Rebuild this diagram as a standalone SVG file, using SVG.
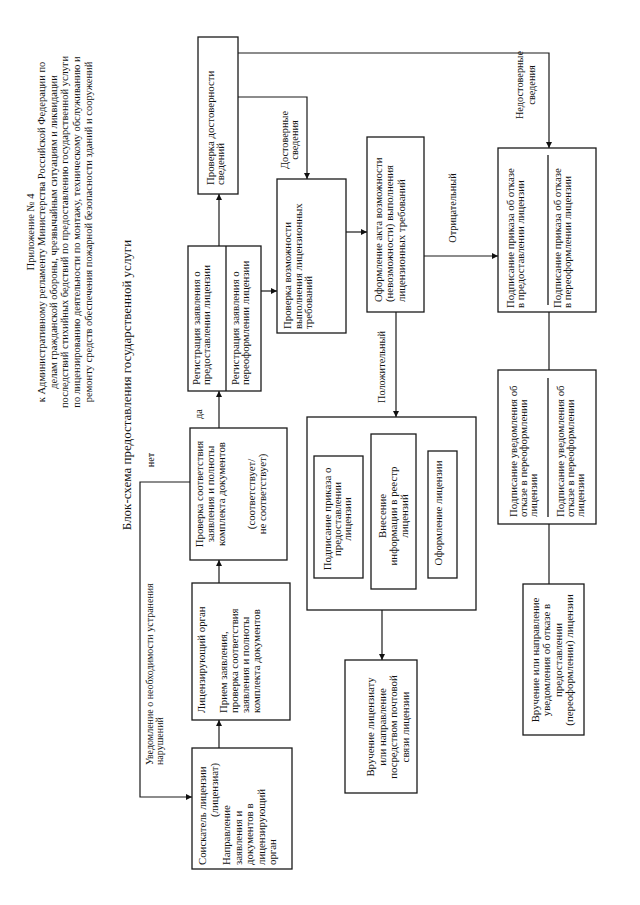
<svg xmlns="http://www.w3.org/2000/svg" width="640" height="905" viewBox="0 0 640 905">
<style>
.t{font-family:"Liberation Serif","Times New Roman",serif;font-size:10.8px;fill:#111}
.s{font-size:10.3px}
.u{font-size:10px}
.h{font-size:10.5px}
.ti{font-size:13px}
.m{text-anchor:middle}
.b{fill:none;stroke:#1a1a1a;stroke-width:1.3}
.l{fill:none;stroke:#1a1a1a;stroke-width:1.2}
</style>
<defs>
<marker id="ah" viewBox="0 0 10 10" refX="10" refY="5" markerWidth="7" markerHeight="6" markerUnits="userSpaceOnUse" orient="auto"><path d="M0,0 L10,5 L0,10 z" fill="#111"/></marker>
</defs>
<rect width="640" height="905" fill="#fff"/>

<g id="header">
<text class="t h m" transform="rotate(-90)" x="-232" y="33.5">Приложение № 4</text>
<text class="t h m" transform="rotate(-90)" x="-232" y="45">к Административному регламенту Министерства Российской Федерации по</text>
<text class="t h m" transform="rotate(-90)" x="-232" y="56.5">делам гражданской обороны, чрезвычайным ситуациям и ликвидации</text>
<text class="t h m" transform="rotate(-90)" x="-232" y="68">последствий стихийных бедствий по предоставлению государственной услуги</text>
<text class="t h m" transform="rotate(-90)" x="-232" y="80">по лицензированию деятельности по монтажу, техническому обслуживанию и</text>
<text class="t h m" transform="rotate(-90)" x="-232" y="91.5">ремонту средств обеспечения пожарной безопасности зданий и сооружений</text>
</g>
<g id="title">
<text class="t ti m" transform="rotate(-90)" x="-385" y="131">Блок-схема предоставления государственной услуги</text>
</g>

<g id="connectors">
<path class="l" d="M219,748 V720" marker-end="url(#ah)"/>
<path class="l" d="M219,583 V560" marker-end="url(#ah)"/>
<path class="l" d="M219,428 V391" marker-end="url(#ah)"/>
<path class="l" d="M219,246 V194" marker-end="url(#ah)"/>
<path class="l" d="M261,291 H277" marker-end="url(#ah)"/>
<path class="l" d="M238,53 H549 V148" marker-end="url(#ah)"/>
<path class="l" d="M238,97 H307 V179" marker-end="url(#ah)"/>
<path class="l" d="M346,232 H367" marker-end="url(#ah)"/>
<path class="l" d="M424,256 H498" marker-end="url(#ah)"/>
<path class="l" d="M396,312 V417" marker-end="url(#ah)"/>
<path class="l" d="M549,312 V370"/>
<path class="l" d="M549,524 V584"/>
<path class="l" d="M382,610 V660" marker-end="url(#ah)"/>
<path class="l" d="M190,482 H140 V797 H192" marker-end="url(#ah)"/>
<text class="t s m" transform="rotate(-90)" x="-85" y="523">Недостоверные</text>
<text class="t s m" transform="rotate(-90)" x="-85" y="535">сведения</text>
<text class="t s m" transform="rotate(-90)" x="-140" y="288">Достоверные</text>
<text class="t s m" transform="rotate(-90)" x="-140" y="298">сведения</text>
<text class="t s m" transform="rotate(-90)" x="-208" y="456">Отрицательный</text>
<text class="t s m" transform="rotate(-90)" x="-367" y="385">Положительный</text>
<text class="t s m" transform="rotate(-90)" x="-414" y="202">да</text>
<text class="t s m" transform="rotate(-90)" x="-460" y="154">нет</text>
<text class="t u" transform="rotate(-90)" x="-765" y="153">Уведомление о необходимости устранения</text>
<text class="t u" transform="rotate(-90)" x="-765" y="163">нарушений</text>
</g>

<g id="n-proverka-dostovernosti">
<rect class="b" x="198" y="37" width="40" height="157"/>
<text class="t" transform="rotate(-90)" x="-185" y="213.5">Проверка достоверности</text>
<text class="t" transform="rotate(-90)" x="-185" y="223.5">сведений</text>
</g>

<g id="n-registraciya">
<rect class="b" x="188" y="246" width="73" height="145"/>
<path class="b" d="M226,246 V391"/>
<text class="t" transform="rotate(-90)" x="-385" y="200">Регистрация заявления о</text>
<text class="t" transform="rotate(-90)" x="-385" y="210">предоставлении лицензии</text>
<text class="t" transform="rotate(-90)" x="-385" y="239">Регистрация заявления о</text>
<text class="t" transform="rotate(-90)" x="-385" y="249">переоформлении лицензии</text>
</g>

<g id="n-proverka-vozmozhnosti">
<rect class="b" x="277" y="179" width="69" height="154"/>
<text class="t" transform="rotate(-90)" x="-329" y="291">Проверка возможности</text>
<text class="t" transform="rotate(-90)" x="-329" y="302">выполнения лицензионных</text>
<text class="t" transform="rotate(-90)" x="-329" y="312">требований</text>
</g>

<g id="n-proverka-sootvetstviya">
<rect class="b" x="190" y="428" width="97" height="132"/>
<text class="t m" transform="rotate(-90)" x="-494" y="203">Проверка соответствия</text>
<text class="t m" transform="rotate(-90)" x="-494" y="214">заявления и полноты</text>
<text class="t m" transform="rotate(-90)" x="-494" y="225">комплекта документов</text>
<text class="t m" transform="rotate(-90)" x="-494" y="255">(соответствует/</text>
<text class="t m" transform="rotate(-90)" x="-494" y="265.5">не соответствует)</text>
</g>

<g id="n-licenziruyushchiy-organ">
<rect class="b" x="192" y="583" width="98" height="137"/>
<text class="t" transform="rotate(-90)" x="-713" y="204.5">Лицензирующий орган</text>
<text class="t" transform="rotate(-90)" x="-713" y="226.5">Прием заявления,</text>
<text class="t" transform="rotate(-90)" x="-713" y="237.5">проверка соответствия</text>
<text class="t" transform="rotate(-90)" x="-713" y="248.5">заявления и полноты</text>
<text class="t" transform="rotate(-90)" x="-713" y="259.5">комплекта документов</text>
</g>

<g id="n-soiskatel">
<rect class="b" x="192" y="748" width="100" height="121"/>
<text class="t" transform="rotate(-90)" x="-865" y="206">Соискатель лицензии</text>
<text class="t m" transform="rotate(-90)" x="-790" y="218">(лицензиат)</text>
<text class="t" transform="rotate(-90)" x="-865" y="230">Направление</text>
<text class="t" transform="rotate(-90)" x="-865" y="241.5">заявления и</text>
<text class="t" transform="rotate(-90)" x="-865" y="253">документов в</text>
<text class="t" transform="rotate(-90)" x="-865" y="264.5">лицензирующий</text>
<text class="t" transform="rotate(-90)" x="-865" y="276">орган</text>
</g>

<g id="n-polozhitelnyy-blok">
<rect class="b" x="307" y="417" width="169" height="193"/>
</g>
<g id="n-podpisanie-prikaza">
<rect class="b" x="314" y="456" width="49" height="122"/>
<text class="t m" transform="rotate(-90)" x="-519" y="330.5">Подписание приказа о</text>
<text class="t m" transform="rotate(-90)" x="-519" y="340.5">предоставлении</text>
<text class="t m" transform="rotate(-90)" x="-519" y="350.5">лицензии</text>
</g>
<g id="n-vnesenie">
<rect class="b" x="371" y="434" width="45" height="155"/>
<text class="t m" transform="rotate(-90)" x="-516" y="385.5">Внесение</text>
<text class="t m" transform="rotate(-90)" x="-516" y="396.5">информации в реестр</text>
<text class="t m" transform="rotate(-90)" x="-516" y="408">лицензий</text>
</g>
<g id="n-oformlenie-licenzii">
<rect class="b" x="428" y="451" width="29" height="127"/>
<text class="t m" transform="rotate(-90)" x="-513" y="441.5">Оформление лицензии</text>
</g>

<g id="n-oformlenie-akta">
<rect class="b" x="367" y="137" width="57" height="175"/>
<text class="t" transform="rotate(-90)" x="-302" y="381.5">Оформление акта возможности</text>
<text class="t" transform="rotate(-90)" x="-302" y="393">(невозможности) выполнения</text>
<text class="t" transform="rotate(-90)" x="-302" y="404.5">лицензионных требований</text>
</g>

<g id="n-prikaz-otkaz">
<rect class="b" x="498" y="148" width="98" height="164"/>
<path class="b" d="M548,155 V305"/>
<text class="t" transform="rotate(-90)" x="-308" y="513.5">Подписание приказа об  отказе</text>
<text class="t" transform="rotate(-90)" x="-308" y="523.5">в предоставлении лицензии</text>
<text class="t" transform="rotate(-90)" x="-308" y="560.5">Подписание приказа об  отказе</text>
<text class="t" transform="rotate(-90)" x="-308" y="570.5">в переоформлении лицензии</text>
</g>

<g id="n-uvedomlenie-otkaz">
<rect class="b" x="498" y="370" width="98" height="154"/>
<path class="b" d="M548,378 V517"/>
<text class="t" transform="rotate(-90)" x="-517" y="516.5">Подписание уведомления об</text>
<text class="t" transform="rotate(-90)" x="-517" y="526.5">отказе в переоформлении</text>
<text class="t" transform="rotate(-90)" x="-517" y="536.5">лицензии</text>
<text class="t" transform="rotate(-90)" x="-517" y="563.5">Подписание уведомления об</text>
<text class="t" transform="rotate(-90)" x="-517" y="573.5">отказе в переоформлении</text>
<text class="t" transform="rotate(-90)" x="-517" y="583.5">лицензии</text>
</g>

<g id="n-vruchenie-otkaz">
<rect class="b" x="523" y="584" width="61" height="151"/>
<text class="t m" transform="rotate(-90)" x="-660" y="538.5">Вручение или направление</text>
<text class="t m" transform="rotate(-90)" x="-660" y="550">уведомления об отказе в</text>
<text class="t m" transform="rotate(-90)" x="-660" y="561.5">предоставлении</text>
<text class="t m" transform="rotate(-90)" x="-660" y="573">(переоформлении) лицензии</text>
</g>

<g id="n-vruchenie-licenziatu">
<rect class="b" x="345" y="660" width="72" height="133"/>
<text class="t m" transform="rotate(-90)" x="-727" y="373.5">Вручение лицензиату</text>
<text class="t m" transform="rotate(-90)" x="-727" y="385.5">или направление</text>
<text class="t m" transform="rotate(-90)" x="-727" y="396.5">посредством почтовой</text>
<text class="t m" transform="rotate(-90)" x="-727" y="408.5">связи лицензии</text>
</g>
</svg>
